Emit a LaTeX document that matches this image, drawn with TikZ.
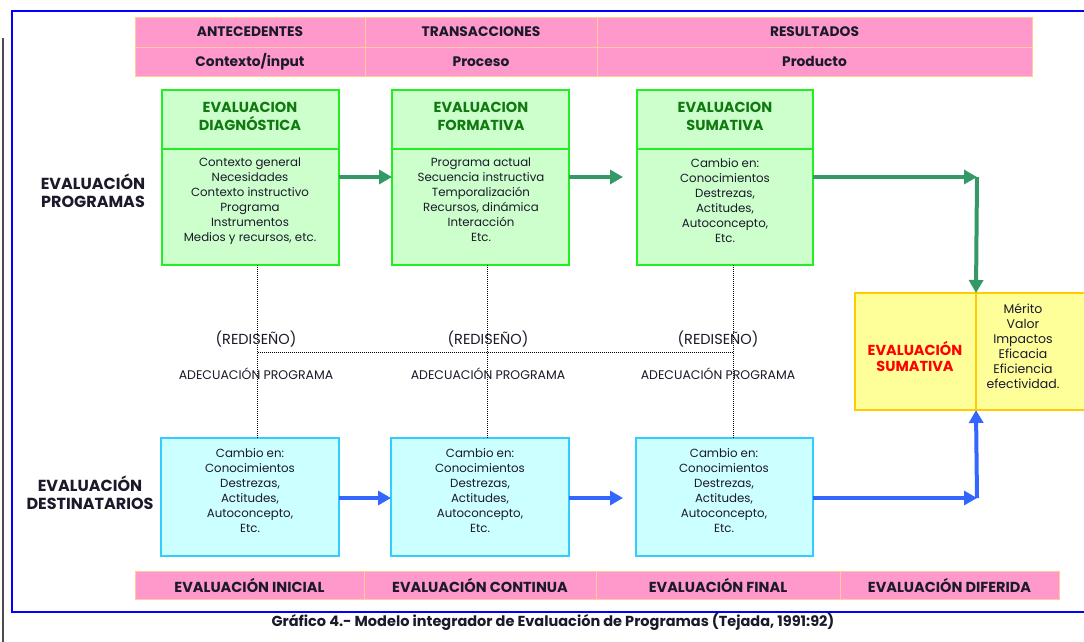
\documentclass[tikz,border=0pt]{standalone}
\usepackage{fontspec}
\setmainfont{Poppins}
\usetikzlibrary{arrows.meta,calc}
\definecolor{pinkf}{HTML}{FF99CC}
\definecolor{pinkd}{HTML}{FFCC99}
\definecolor{greenf}{HTML}{CCFFCC}
\definecolor{greend}{HTML}{22EE22}
\definecolor{greent}{HTML}{107A10}
\definecolor{greena}{HTML}{339966}
\definecolor{cyanf}{HTML}{CCFFFF}
\definecolor{cyand}{HTML}{33CCFF}
\definecolor{bluea}{HTML}{3366FF}
\definecolor{yellowf}{HTML}{FFFF99}
\definecolor{yellowd}{HTML}{FFCC00}
\definecolor{txt}{HTML}{1A1A2A}
\begin{document}
\begin{tikzpicture}[x=1pt,y=-1pt,
  cell/.style={draw=pinkd,fill=pinkf,line width=1pt,inner sep=0pt,outer sep=0pt,anchor=north west,text=txt,font=\bfseries\fontsize{13.8}{15}\selectfont},
  bcell/.style={cell,font=\bfseries\fontsize{14.5}{16}\selectfont},
  gbox/.style={draw=greend,fill=greenf,line width=1.3pt,inner sep=0pt,outer sep=0pt,anchor=north west,minimum width=177},
  cbox/.style={draw=cyand,fill=cyanf,line width=1.3pt,inner sep=0pt,outer sep=0pt,anchor=north west,minimum width=178,minimum height=118},
  ybox/.style={draw=yellowd,fill=yellowf,line width=1.3pt,inner sep=0pt,outer sep=0pt,anchor=north west,minimum height=117},
  gtitle/.style={text=greent,align=center,font=\bfseries\fontsize{14.5}{18}\selectfont},
  body/.style={text=txt,align=center,anchor=north,inner sep=0pt,font=\fontsize{11.8}{15}\selectfont},
  side/.style={text=txt,align=center,font=\bfseries\fontsize{16}{18}\selectfont},
  garrow/.style={draw=greena,line width=4pt,-{Triangle[length=13pt,width=14pt]}},
  barrow/.style={draw=bluea,line width=4pt,-{Triangle[length=13pt,width=14pt]}},
  dotline/.style={draw=black,line width=1pt,densely dotted},
  note/.style={text=txt,font=\fontsize{14.5}{16}\selectfont},
  smallnote/.style={text=txt,font=\fontsize{12.5}{14}\selectfont}]
\useasboundingbox (0,0) rectangle (1084,641);
\clip (0,0) rectangle (1084,641);
\fill[white] (0,0) rectangle (1084,641);
% frames
\draw[gray!60!black,line width=2pt] (2.5,38) -- (2.5,645);
\draw[blue,line width=1.5pt] (12,11) rectangle (1100,612);
% header table
\node[cell,minimum width=230,minimum height=30] (h1) at (135,17) {ANTECEDENTES};
\node[cell,minimum width=232,minimum height=30] (h2) at (365,17) {TRANSACCIONES};
\node[cell,minimum width=435,minimum height=30] (h3) at (597,17) {RESULTADOS};
\node[cell,minimum width=230,minimum height=29] (s1) at (135,47) {Contexto/input};
\node[cell,minimum width=232,minimum height=29] (s2) at (365,47) {Proceso};
\node[cell,minimum width=435,minimum height=29] (s3) at (597,47) {Producto};
% green boxes
\node[gbox,minimum height=59] (gt1) at (162,90) {};
\node[gbox,minimum height=116] (gb1) at (162,149) {};
\node[gbox,minimum height=59] (gt2) at (392,90) {};
\node[gbox,minimum height=116] (gb2) at (392,149) {};
\node[gbox,minimum height=59,minimum width=176] (gt3) at (637,90) {};
\node[gbox,minimum height=116,minimum width=176] (gb3) at (637,149) {};
\node[gtitle] (gtt1) at (250,116) {EVALUACION\\DIAGNÓSTICA};
\node[gtitle] (gtt2) at (481,116) {EVALUACION\\FORMATIVA};
\node[gtitle] (gtt3) at (725,116) {EVALUACION\\SUMATIVA};
\node[body] (gbt1) at (250,158) {Contexto general\\Necesidades\\Contexto instructivo\\Programa\\Instrumentos\\Medios y recursos, etc.};
\node[body] (gbt2) at (481,158) {Programa actual\\Secuencia instructiva\\Temporalización\\Recursos, dinámica\\Interacción\\Etc.};
\node[body] (gbt3) at (725,158) {Cambio en:\\Conocimientos\\Destrezas,\\Actitudes,\\Autoconcepto,\\Etc.};
% cyan boxes
\node[cbox] (cb1) at (161,438) {};
\node[cbox] (cb2) at (391,438) {};
\node[cbox,minimum width=177] (cb3) at (636,438) {};
\node[body] (cbt1) at (250,448) {Cambio en:\\Conocimientos\\Destrezas,\\Actitudes,\\Autoconcepto,\\Etc.};
\node[body] (cbt2) at (480,448) {Cambio en:\\Conocimientos\\Destrezas,\\Actitudes,\\Autoconcepto,\\Etc.};
\node[body] (cbt3) at (724,448) {Cambio en:\\Conocimientos\\Destrezas,\\Actitudes,\\Autoconcepto,\\Etc.};
% yellow box
\node[ybox,minimum width=121] (ys) at (855,293) {};
\node[ybox,minimum width=140] (yr) at (976,293) {};
\node[text=red,align=center,font=\bfseries\fontsize{14.5}{16}\selectfont] (yst) at (915,356) {EVALUACIÓN\\SUMATIVA};
\node[body,anchor=center,font=\fontsize{12.5}{15}\selectfont] (yrt) at (1023,346) {Mérito\\Valor\\Impactos\\Eficacia\\Eficiencia\\efectividad.};
% side labels
\node[side] (lp) at (93,191) {EVALUACIÓN\\PROGRAMAS};
\node[side] (ld) at (90,493) {EVALUACIÓN\\DESTINATARIOS};
% bottom table
\node[bcell,minimum width=229,minimum height=28] (b1) at (135,571) {EVALUACIÓN INICIAL};
\node[bcell,minimum width=232,minimum height=28] (b2) at (364,571) {EVALUACIÓN CONTINUA};
\node[bcell,minimum width=244,minimum height=28] (b3) at (596,571) {EVALUACIÓN FINAL};
\node[bcell,minimum width=219,minimum height=28] (b4) at (840,571) {EVALUACIÓN DIFERIDA};
% caption
\node[text=txt,font=\bfseries\fontsize{14.5}{16}\selectfont] (cap) at (553,622) {Gráfico 4.- Modelo integrador de Evaluación de Programas (Tejada, 1991:92)};
% dotted connectors
\coordinate (d1) at ($(gb1.south)+(7,0)$);
\coordinate (d2) at ($(gb2.south)+(7,0)$);
\coordinate (d3) at ($(gb3.south)+(8,0)$);
\coordinate (hl) at (0,352);
\draw[dotline] (d1) -- (d1 |- cb1.north);
\draw[dotline] (d2) -- (d2 |- cb2.north);
\draw[dotline] (d3) -- (d3 |- cb3.north);
\draw[dotline] (d1 |- hl) -- (d3 |- hl);
\node[note] (r1) at (256,339) {(REDISEÑO)};
\node[note] (r2) at (488,339) {(REDISEÑO)};
\node[note] (r3) at (718,339) {(REDISEÑO)};
\node[smallnote] (a1) at (256,374) {ADECUACIÓN PROGRAMA};
\node[smallnote] (a2) at (488,374) {ADECUACIÓN PROGRAMA};
\node[smallnote] (a3) at (718,374) {ADECUACIÓN PROGRAMA};
% arrows
\coordinate (cg) at (977,177);
\coordinate (cbl) at (977,498);
\draw[garrow] (gb1.east |- cg) -- (gb2.west |- cg);
\draw[garrow] (gb2.east |- cg) -- ($(gb3.west |- cg)+(-14,0)$);
\draw[garrow] (gb3.east |- cg) -- (cg);
\draw[garrow] (cg) -- (ys.north east);
\draw[barrow] (cb1.east |- cbl) -- (cb2.west |- cbl);
\draw[barrow] (cb2.east |- cbl) -- ($(cb3.west |- cbl)+(-13,0)$);
\draw[barrow] (cb3.east |- cbl) -- (cbl);
\draw[barrow] (cbl) -- (ys.south east);
\end{tikzpicture}
\end{document}
